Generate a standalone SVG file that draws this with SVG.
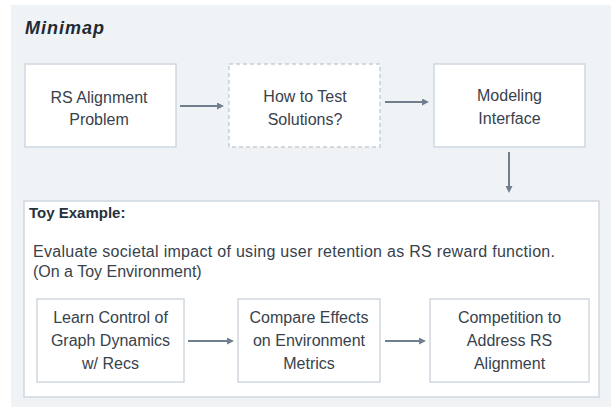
<svg xmlns="http://www.w3.org/2000/svg" width="611" height="407" viewBox="0 0 611 407">
  <style>
    .bg { fill: #eff3f6; }
    .box { fill: #ffffff; stroke: #cfd8e0; stroke-width: 1.5; }
    .dash { fill: #ffffff; stroke: #c6cfd8; stroke-width: 1.5; stroke-dasharray: 4 3; }
    .t { font-family: "Liberation Sans", Arial, sans-serif; font-size: 16px; fill: #38424c; }
    .c { text-anchor: middle; }
    .title { font-family: "Liberation Sans", Arial, sans-serif; font-size: 18px; font-weight: bold; font-style: italic; fill: #1f2a35; letter-spacing: 1px; }
    .head { font-family: "Liberation Sans", Arial, sans-serif; font-size: 15px; font-weight: bold; fill: #26313c; }
    .conn { stroke: #6f7f8e; stroke-width: 2; fill: none; marker-end: url(#ah); }
  </style>
  <defs>
    <marker id="ah" markerUnits="userSpaceOnUse" markerWidth="7" markerHeight="7" refX="2" refY="3.5" orient="auto">
      <path d="M0,0 L7,3.5 L0,7 z" fill="#6f7f8e"/>
    </marker>
  </defs>
  <rect class="bg" x="11" y="5" width="600" height="402"/>
  <text class="title" x="25" y="34">Minimap</text>

  <g id="node-rs-alignment">
    <rect class="box" x="25" y="64" width="151" height="83"/>
    <text class="t c" x="99" y="103">RS Alignment</text>
    <text class="t c" x="99" y="125">Problem</text>
  </g>
  <g id="node-how-to-test">
    <rect class="dash" x="229" y="64" width="151" height="83"/>
    <text class="t c" x="305" y="102">How to Test</text>
    <text class="t c" x="305" y="125">Solutions?</text>
  </g>
  <g id="node-modeling-interface">
    <rect class="box" x="434" y="64" width="151" height="83"/>
    <text class="t c" x="509.5" y="101">Modeling</text>
    <text class="t c" x="509.5" y="124">Interface</text>
  </g>

  <g id="node-toy-example">
    <rect class="box" x="24" y="201" width="575" height="196"/>
    <text class="head" x="29" y="218">Toy Example:</text>
    <text class="t" x="33" y="257" textLength="522" lengthAdjust="spacing">Evaluate societal impact of using user retention as RS reward function.</text>
    <text class="t" x="33" y="277">(On a Toy Environment)</text>
  </g>
  <g id="node-learn-control">
    <rect class="box" x="37" y="299" width="147" height="83"/>
    <text class="t c" x="110.5" y="323">Learn Control of</text>
    <text class="t c" x="110.5" y="346">Graph Dynamics</text>
    <text class="t c" x="110.5" y="369">w/ Recs</text>
  </g>
  <g id="node-compare-effects">
    <rect class="box" x="238" y="299" width="142" height="83"/>
    <text class="t c" x="309" y="323">Compare Effects</text>
    <text class="t c" x="309" y="346">on Environment</text>
    <text class="t c" x="309" y="369">Metrics</text>
  </g>
  <g id="node-competition">
    <rect class="box" x="430" y="299" width="159" height="83"/>
    <text class="t c" x="509.5" y="323">Competition to</text>
    <text class="t c" x="509.5" y="346">Address RS</text>
    <text class="t c" x="509.5" y="369">Alignment</text>
  </g>

  <g id="connectors">
    <line class="conn" x1="180" y1="106" x2="219" y2="106"/>
    <line class="conn" x1="385" y1="102" x2="424" y2="102"/>
    <line class="conn" x1="509" y1="152" x2="509" y2="188"/>
    <line class="conn" x1="188" y1="341" x2="229" y2="341"/>
    <line class="conn" x1="385" y1="341" x2="421" y2="341"/>
  </g>
</svg>
